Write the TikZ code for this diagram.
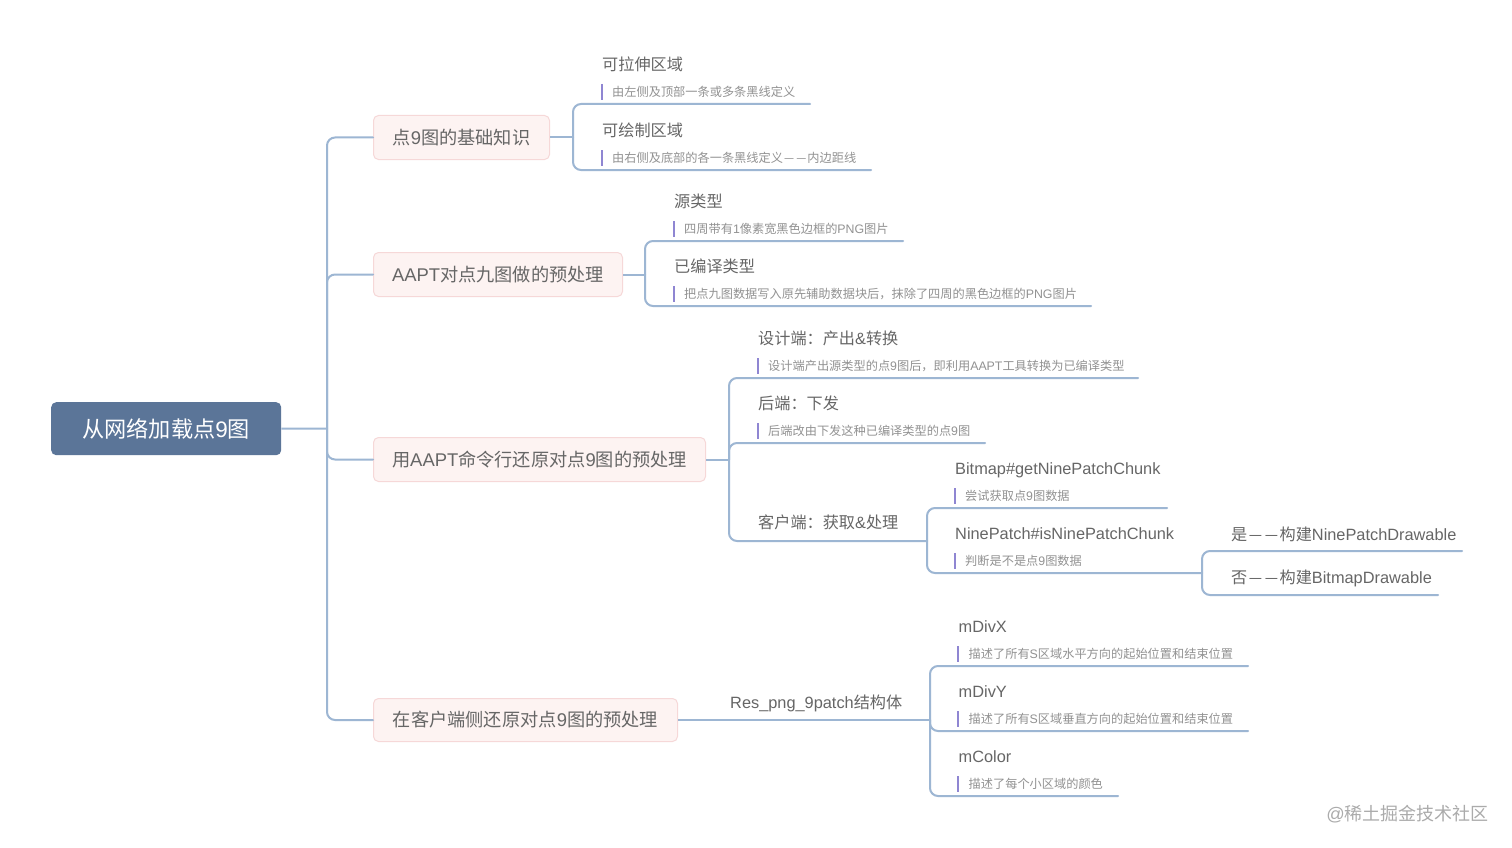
\documentclass[tikz,border=0pt]{standalone}
\usepackage{fontspec}
\usetikzlibrary{calc}
\setmainfont{Noto Sans CJK SC}
\newfontfamily\latfont[Scale=1.012]{Liberation Sans}
\newcommand{\la}[1]{{\latfont #1}}
\newcommand{\dd}{\makebox[1em]{\scalebox{.92}[1]{—}}}
\definecolor{linkc}{HTML}{9DB6D3}
\definecolor{boxfill}{HTML}{FDF3F2}
\definecolor{boxline}{HTML}{F6D8D8}
\definecolor{rootc}{HTML}{5B7598}
\definecolor{titlec}{HTML}{666666}
\definecolor{notec}{HTML}{929292}
\definecolor{barc}{HTML}{8F86D2}
\definecolor{markc}{HTML}{ABABAB}
\tikzset{
  conn/.style={draw=linkc,line width=2pt,line cap=round,rounded corners=8pt},
  stub/.style={draw=linkc,line width=2pt,line cap=butt},
  topicbox/.style={draw=boxline,fill=boxfill,line width=1pt,rounded corners=5pt,inner sep=0pt,text=titlec,font=\fontsize{18.2}{18.2}\selectfont,anchor=north west},
  rootbox/.style={fill=rootc,rounded corners=5pt,inner sep=0pt,text=white,font=\fontsize{22.2}{22.2}\selectfont,anchor=north west},
  leaftitle/.style={anchor=west,inner sep=0pt,text height=12pt,text depth=3pt,text=titlec,font=\fontsize{16.15}{16.15}\selectfont},
  leafnote/.style={anchor=west,inner sep=0pt,text=notec,font=\fontsize{12.2}{12.2}\selectfont},
  notebar/.style={draw=barc,line width=2pt},
  wmark/.style={anchor=east,inner sep=0pt,text=markc,font=\fontsize{18}{18}\selectfont}
}
% name, fork x, text x, line end x, line y, title, note
\newcommand{\noteleaf}[7]{%
  \coordinate (#1-s) at (#2,#5);
  \coordinate (#1-e) at (#4,#5);
  \node[leaftitle] (#1) at (#3,#5-38) {#6};
  \node[leafnote] (#1-n) at (#3+10,#5-12.2) {#7};
  \coordinate (#1-b1) at (#3-0.5,#5-20);
  \coordinate (#1-b2) at (#3-0.5,#5-4);
  \draw[notebar] (#1-b1) -- (#1-b2);
}
% name, fork x, text x, line end x, line y, title, offset
\newcommand{\plainleaf}[7]{%
  \coordinate (#1-s) at (#2,#5);
  \coordinate (#1-e) at (#4,#5);
  \node[leaftitle] (#1) at (#3,#5-#7) {#6};
}
\newcommand{\stubline}[2]{\draw[stub] (#1) -- ($(#1)!.5!(#2)$) -- (#2);}
\begin{document}
\begin{tikzpicture}[x=1pt,y=-1pt]
\path[use as bounding box,fill=white] (0,0) rectangle (1512,848);
\coordinate (tk) at (327,0);
\node[rootbox,minimum width=230pt,minimum height=53pt] (root) at (51,402) {\raisebox{.7pt}{从网络加载点\la{9}图}};
\node[topicbox,minimum width=176pt,minimum height=44pt] (b1) at (373,115) {点\la{9}图的基础知识};
\node[topicbox,minimum width=249pt,minimum height=44pt] (b2) at (373,252) {\raisebox{.7pt}{\la{AAPT}对点九图做的预处理}};
\node[topicbox,minimum width=332pt,minimum height=44pt] (b3) at (373,437) {\raisebox{.7pt}{用\la{AAPT}命令行还原对点\la{9}图的预处理}};
\node[topicbox,minimum width=304pt,minimum height=43pt] (b4) at (373,698) {在客户端侧还原对点\la{9}图的预处理};

\noteleaf{a}{573}{602}{810}{104}{可拉伸区域}{由左侧及顶部一条或多条黑线定义}
\noteleaf{b}{573}{602}{871}{170}{可绘制区域}{由右侧及底部的各一条黑线定义\dd\dd 内边距线}
\noteleaf{c}{645}{674}{903}{241}{源类型}{四周带有\la{1}像素宽黑色边框的\la{PNG}图片}
\noteleaf{d}{645}{674}{1091}{306}{已编译类型}{把点九图数据写入原先辅助数据块后，抹除了四周的黑色边框的\la{PNG}图片}
\noteleaf{e}{729}{758}{1138}{378}{设计端：产出\la{\&}转换}{设计端产出源类型的点\la{9}图后，即利用\la{AAPT}工具转换为已编译类型}
\noteleaf{f}{729}{758}{985}{443}{后端：下发}{后端改由下发这种已编译类型的点\la{9}图}
\plainleaf{g}{729}{758}{927}{541}{客户端：获取\la{\&}处理}{17}
\noteleaf{h}{927}{955}{1167}{508}{\la{Bitmap\#getNinePatchChunk}}{尝试获取点\la{9}图数据}
\noteleaf{i}{927}{955}{1202}{573}{\la{NinePatch\#isNinePatchChunk}}{判断是不是点\la{9}图数据}
\plainleaf{j}{1202}{1231}{1462}{551}{是\dd\dd 构建\la{NinePatchDrawable}}{15.5}
\plainleaf{k}{1202}{1231}{1438}{595}{否\dd\dd 构建\la{BitmapDrawable}}{16.5}
\plainleaf{l}{677}{730}{930}{719.5}{\la{Res\_png\_9patch}结构体}{15.5}
\noteleaf{m}{930}{958.5}{1248}{666}{\la{mDivX}}{描述了所有\la{S}区域水平方向的起始位置和结束位置}
\noteleaf{n}{930}{958.5}{1248}{731}{\la{mDivY}}{描述了所有\la{S}区域垂直方向的起始位置和结束位置}
\noteleaf{o}{930}{958.5}{1118}{796}{\la{mColor}}{描述了每个小区域的颜色}

% trunk
\stubline{root.east}{root.east -| tk}
\foreach \bx in {b1,b2,b3,b4}{
  \draw[conn] (root.east -| tk) -- (\bx.west -| tk) -- (\bx.west);
}
% first level forks
\stubline{b1.east}{b1.east -| a-s}
\draw[conn] (b1.east -| a-s) -- (a-s) -- (a-e);
\draw[conn] (b1.east -| a-s) -- (b-s) -- (b-e);
\stubline{b2.east}{b2.east -| c-s}
\draw[conn] (b2.east -| c-s) -- (c-s) -- (c-e);
\draw[conn] (b2.east -| c-s) -- (d-s) -- (d-e);
\stubline{b3.east}{b3.east -| e-s}
\draw[conn] (b3.east -| e-s) -- (e-s) -- (e-e);
\draw[conn] (b3.east -| e-s) -- (f-s) -- (f-e);
\draw[conn] (b3.east -| e-s) -- (g-s) -- (g-e);
\draw[conn] (g-e) -- (h-s) -- (h-e);
\draw[conn] (g-e) -- (i-s) -- (i-e);
\draw[conn] (i-e) -- (j-s) -- (j-e);
\draw[conn] (i-e) -- (k-s) -- (k-e);
\stubline{b4.east}{b4.east -| l-e}
\draw[conn] (b4.east -| l-e) -- (m-s) -- (m-e);
\draw[conn] (b4.east -| l-e) -- (n-s) -- (n-e);
\draw[conn] (b4.east -| l-e) -- (o-s) -- (o-e);

\node[wmark] (wm) at (1489,814) {\la{@}稀土掘金技术社区};
\end{tikzpicture}
\end{document}
